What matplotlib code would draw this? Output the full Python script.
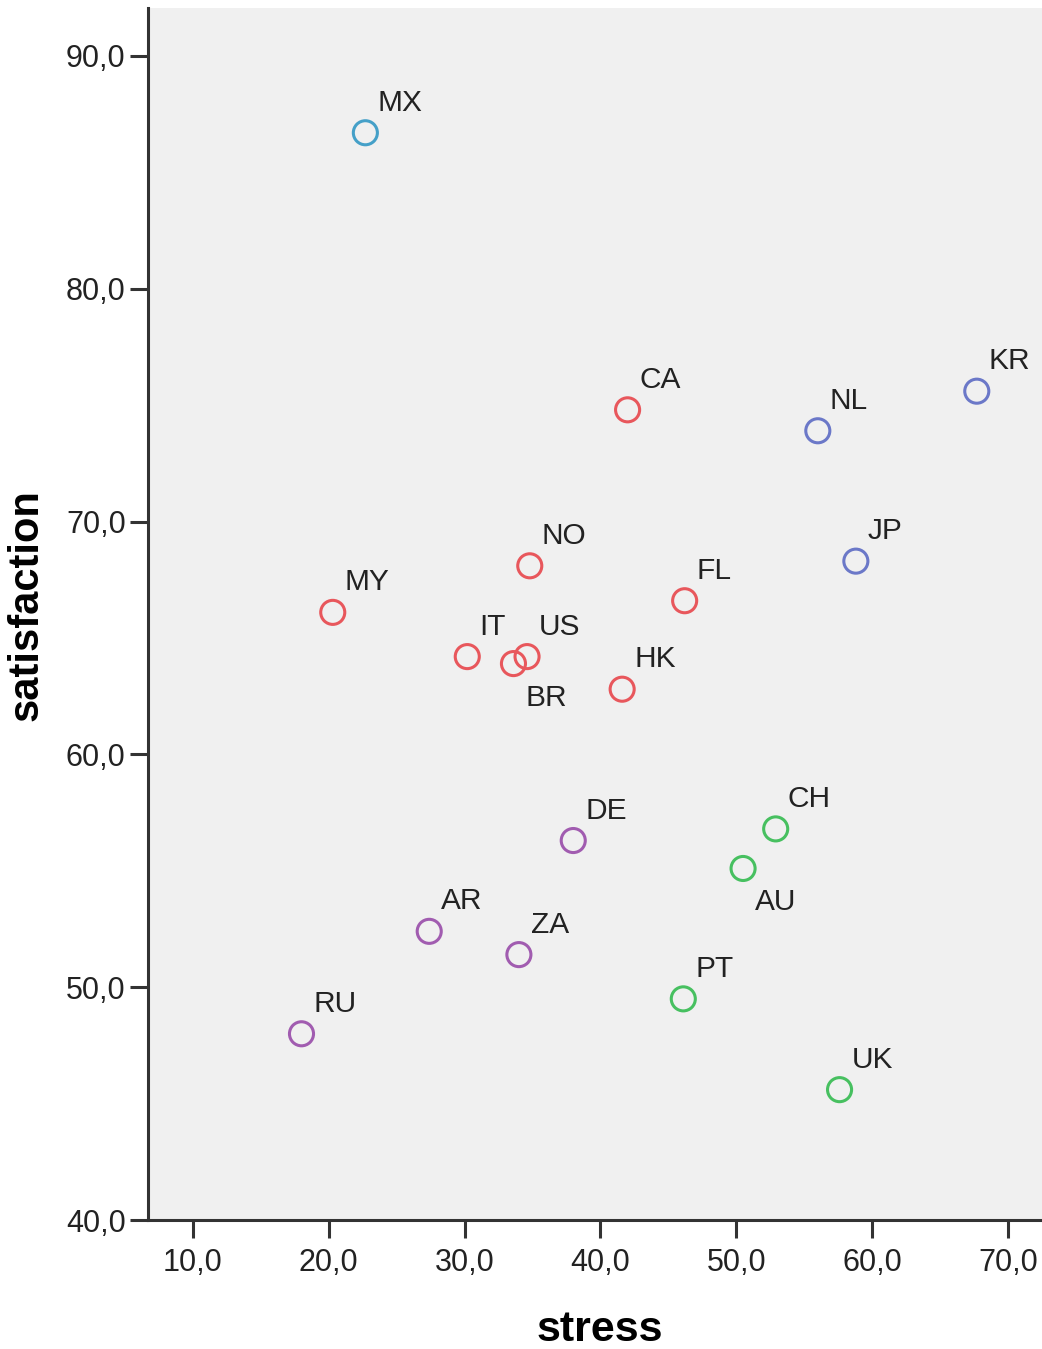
import matplotlib
matplotlib.use("Agg")
import matplotlib.pyplot as plt
from matplotlib.ticker import FuncFormatter

plt.rcParams['font.family'] = ['Liberation Sans', 'DejaVu Sans']

# country codes, stress score, satisfaction score, cluster id
countries = ['MX', 'CA', 'NL', 'KR', 'JP', 'NO', 'MY', 'FL', 'IT', 'US',
             'BR', 'HK', 'DE', 'CH', 'AU', 'AR', 'ZA', 'PT', 'RU', 'UK']
stress = [22.7, 42.0, 56.0, 67.7, 58.8, 34.8, 20.3, 46.2, 30.2, 34.6,
          33.6, 41.6, 38.0, 52.9, 50.5, 27.4, 34.0, 46.1, 18.0, 57.6]
satisfaction = [86.7, 74.8, 73.9, 75.6, 68.3, 68.1, 66.1, 66.6, 64.2, 64.2,
                63.9, 62.8, 56.3, 56.8, 55.1, 52.4, 51.4, 49.5, 48.0, 45.6]
cluster = [1, 3, 2, 2, 2, 3, 3, 3, 3, 3,
           3, 3, 4, 5, 5, 4, 4, 5, 4, 5]

x_ticks = [10, 20, 30, 40, 50, 60, 70]
y_ticks = [40, 50, 60, 70, 80, 90]

# labels placed under the marker instead of above
below = ['BR', 'AU']

cluster_colors = {1: '#45a0c8', 2: '#6b78c8', 3: '#e8575c', 4: '#a15cb0', 5: '#47c060'}

fig = plt.figure(figsize=(10.42, 13.49), dpi=100)
ax = fig.add_axes([0.142, 0.0956, 0.858, 0.8985])
ax.set_facecolor('#f0f0f0')

colors = [cluster_colors[c] for c in cluster]
ax.scatter(stress, satisfaction, s=300, facecolors='none', edgecolors=colors,
           linewidths=2.2, zorder=3)

for name, xv, yv in zip(countries, stress, satisfaction):
    if name in below:
        ax.annotate(name, (xv, yv), xytext=(12, -20), textcoords='offset pixels',
                    ha='left', va='top', fontsize=21.5, color='#222222')
    else:
        ax.annotate(name, (xv, yv), xytext=(12, 22), textcoords='offset pixels',
                    ha='left', va='baseline', fontsize=21.5, color='#222222')

ax.set_xlim(6.7, 72.5)
ax.set_ylim(40, 92.06)
ax.set_xticks(x_ticks)
ax.set_yticks(y_ticks)
comma = FuncFormatter(lambda v, p: f"{v:.1f}".replace('.', ','))
ax.xaxis.set_major_formatter(comma)
ax.yaxis.set_major_formatter(comma)

for side in ['top', 'right']:
    ax.spines[side].set_visible(False)
for side in ['left', 'bottom']:
    ax.spines[side].set_linewidth(2.2)
    ax.spines[side].set_color('#333333')

ax.tick_params(axis='both', direction='out', length=13, width=2.2, color='#333333',
               labelsize=22, labelcolor='#222222')
ax.tick_params(axis='x', pad=7)
ax.tick_params(axis='y', pad=3)

ax.set_xlabel('stress', fontsize=31, fontweight='bold')
ax.set_ylabel('satisfaction', fontsize=30, fontweight='bold')
ax.xaxis.set_label_coords(0.5056, -0.074)
ax.yaxis.set_label_coords(-0.113, 0.507)

fig.savefig('out.png', dpi=100, facecolor='white')
